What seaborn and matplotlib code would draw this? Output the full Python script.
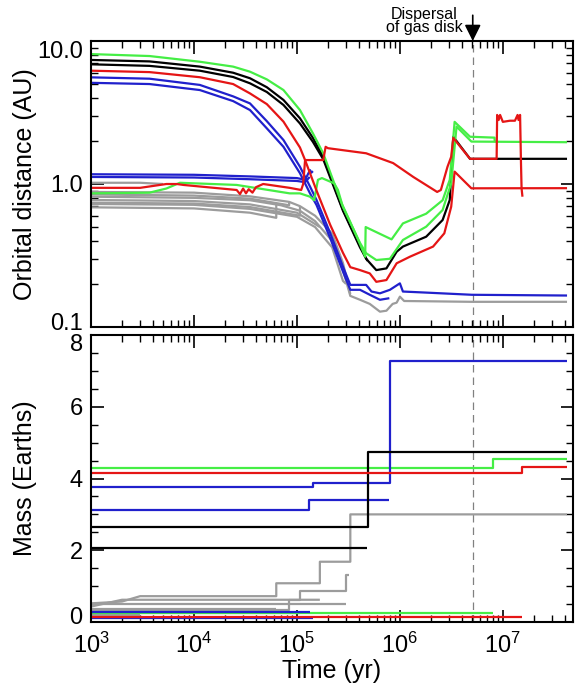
import matplotlib
matplotlib.use("Agg")
import numpy as np
import pandas as pd
import seaborn as sns
import matplotlib.pyplot as plt
import matplotlib.transforms as mtransforms
from matplotlib.ticker import LogLocator, NullFormatter, MultipleLocator, FixedLocator, FixedFormatter

# ================= orbital distance (AU) tracks =================
t_green_outer = [1e3, 3.7e3, 1.14e4, 2.4e4, 3.5e4, 5.1e4, 7.4e4, 1.07e5, 1.43e5, 1.8e5, 2.8e5, 4.1e5,
                 4.7e5, 5.9e5, 8e5, 1.07e6, 1.8e6, 2.6e6, 3.15e6, 3.55e6, 4.95e6, 4.2e7]
r_green_outer = [8.1, 7.85, 7.16, 6.62, 6.1, 5.39, 4.54, 3.29, 2.26, 1.64, 0.69, 0.387,
                 0.328, 0.294, 0.30, 0.406, 0.503, 0.658, 1.01, 2.52, 1.98, 1.96]

t_green_inner = [1e3, 3.7e3, 5.4e3, 7.3e3, 2.6e4, 8.5e4, 1.07e5, 1.34e5, 1.47e5, 1.6e5, 1.75e5, 2.3e5,
                 2.5e5, 2.75e5, 3.3e5, 4.1e5, 4.6e5, 4.65e5, 8.3e5, 1.07e6, 1.8e6, 2.6e6, 3.05e6,
                 3.4e6, 4.8e6, 8.3e6, 8.35e6]
r_green_inner = [0.86, 0.87, 0.93, 1.02, 0.985, 0.86, 0.86, 0.815, 0.77, 1.07, 1.1, 1.01,
                 0.91, 0.72, 0.54, 0.38, 0.31, 0.5, 0.41, 0.53, 0.62, 0.77, 1.07,
                 2.72, 2.14, 2.11, 1.96]

t_black_1 = [1e3, 3.7e3, 1.14e4, 2.4e4, 3.5e4, 5.1e4, 7.4e4, 1.07e5, 1.43e5, 1.8e5, 2.8e5, 4.1e5,
             4.7e5, 5.9e5, 7.4e5, 9.3e5, 1.07e6, 1.8e6, 2.6e6, 3.05e6, 3.3e6, 4.8e6, 4.2e7]
r_black_1 = [7.37, 7.2, 6.62, 6.0, 5.49, 4.75, 3.87, 2.88, 2.1, 1.55, 0.66, 0.37,
             0.30, 0.25, 0.257, 0.336, 0.365, 0.428, 0.56, 0.773, 2.14, 1.5, 1.5]

t_black_2 = [1e3, 3.7e3, 1.14e4, 2.4e4, 3.5e4, 5.1e4, 7.4e4, 1.07e5, 1.43e5, 1.8e5, 2.8e5, 4.1e5, 4.85e5]
r_black_2 = [6.87, 6.7, 6.2, 5.6, 5.06, 4.4, 3.57, 2.65, 1.97, 1.49, 0.65, 0.36, 0.29]

t_red_outer = [1e3, 3.7e3, 1.14e4, 2.4e4, 3.5e4, 5.1e4, 7.4e4, 1.07e5, 1.2e5, 1.55e5, 2.1e5, 2.8e5,
               3.3e5, 4.1e5, 5.1e5, 5.9e5, 7.4e5, 9.3e5, 1.25e6, 2.1e6, 2.7e6, 3.15e6, 3.4e6,
               4.95e6, 4.2e7]
r_red_outer = [6.2, 6.06, 5.58, 5.0, 4.3, 3.62, 2.73, 1.8, 1.47, 0.9, 0.52, 0.33,
               0.262, 0.25, 0.237, 0.207, 0.213, 0.279, 0.31, 0.365, 0.452, 0.694, 1.22,
               0.933, 0.935]

t_red_inner = [1e3, 3e3, 5.4e3, 6.8e3, 7.9e3, 2.6e4, 2.8e4, 3e4, 3.2e4, 3.4e4, 3.7e4, 4e4, 4.7e4,
               8.5e4, 1.1e5, 1.15e5, 1.2e5, 1.8e5, 1.9e5, 2.0e5, 4.7e5, 8.6e5, 1.35e6, 2.3e6,
               2.5e6, 2.9e6, 3.15e6, 3.3e6, 4.8e6, 8.7e6, 8.8e6, 9.1e6, 9.4e6, 1.0e7, 1.17e7,
               1.31e7, 1.39e7, 1.42e7, 1.47e7, 1.5e7, 1.52e7, 1.55e7]
r_red_inner = [0.94, 0.94, 1.0, 1.0, 0.985, 0.908, 0.85, 0.93, 0.86, 0.92, 0.87, 0.95, 1.0,
               0.94, 0.908, 1.0, 1.47, 1.47, 1.82, 1.78, 1.64, 1.40, 1.12, 0.88,
               0.908, 1.32, 1.55, 2.1, 1.5, 1.5, 3.04, 2.8, 3.04, 2.72, 2.77,
               2.77, 3.04, 2.8, 3.04, 1.4, 0.93, 0.815]

t_blue_outer_1 = [1e3, 3.7e3, 1.14e4, 2.4e4, 3.5e4, 5.1e4, 7.4e4, 1.07e5, 1.34e5, 1.55e5, 2.1e5, 2.8e5,
                  3.3e5, 4.7e5, 5.3e5, 6.4e5, 8e5, 1e6, 1.07e6, 1.8e6, 5e6, 4.2e7]
r_blue_outer_1 = [5.57, 5.45, 4.93, 4.1, 3.66, 2.75, 2.03, 1.32, 0.96, 0.773, 0.455, 0.264,
                  0.197, 0.197, 0.177, 0.172, 0.182, 0.202, 0.177, 0.174, 0.168, 0.166]

t_blue_outer_2 = [1e3, 3.7e3, 1.14e4, 2.4e4, 3.5e4, 5.1e4, 7.4e4, 1.07e5, 1.34e5, 1.55e5, 2.1e5, 2.8e5,
                  3.3e5, 4.1e5, 5.1e5, 6.4e5, 7.9e5]
r_blue_outer_2 = [5.1, 5.0, 4.54, 3.8, 3.29, 2.45, 1.82, 1.19, 0.86, 0.713, 0.42, 0.244,
                  0.182, 0.182, 0.168, 0.155, 0.159]

t_blue_inner_1 = [1e3, 1e4, 3.5e4, 1e5, 1.2e5, 1.34e5, 1.38e5, 1.43e5]
r_blue_inner_1 = [1.17, 1.16, 1.13, 1.1, 1.07, 1.25, 1.2, 1.23]
t_blue_inner_2 = [1e3, 1e4, 3.5e4, 1e5, 1.2e5, 1.33e5]
r_blue_inner_2 = [1.12, 1.11, 1.08, 1.05, 1.03, 1.12]

t_gray_1 = [1e3, 1e4, 3.5e4, 7e4, 1.07e5, 1.5e5, 2.2e5, 2.8e5, 3.3e5, 4.1e5, 5.1e5, 6.4e5,
            7.4e5, 8.5e5, 9.3e5, 1e6, 1.1e6, 5e6, 4.2e7]
r_gray_1 = [0.815, 0.80, 0.77, 0.71, 0.65, 0.55, 0.40, 0.25, 0.165, 0.155, 0.145, 0.128,
            0.13, 0.145, 0.148, 0.163, 0.152, 0.15, 0.15]
t_gray_2 = [1e3, 1e4, 3.5e4, 8.4e4, 1.07e5, 1.5e5, 2.2e5, 2.8e5, 3.3e5]
r_gray_2 = [0.88, 0.87, 0.82, 0.75, 0.70, 0.60, 0.45, 0.28, 0.17]
t_gray_3 = [1e3, 1e4, 3.5e4, 1e5, 1.67e5]
r_gray_3 = [0.773, 0.76, 0.72, 0.63, 0.50]
t_gray_4 = [1e3, 1e4, 3.5e4, 1e5, 1.5e5, 2.2e5, 2.8e5, 3e5]
r_gray_4 = [0.725, 0.715, 0.67, 0.59, 0.5, 0.36, 0.21, 0.2]
t_gray_5 = [1e3, 1e4, 3.5e4, 6.3e4, 6.3e4]
r_gray_5 = [0.687, 0.675, 0.63, 0.58, 0.72]
t_gray_6 = [1e3, 1e4, 3.5e4, 8.4e4, 8.4e4]
r_gray_6 = [0.845, 0.83, 0.79, 0.71, 0.75]
t_gray_7 = [1e3, 1e4, 3.5e4, 1.07e5, 1.07e5]
r_gray_7 = [0.74, 0.73, 0.69, 0.6, 0.70]
t_gray_8 = [1e3, 3e3, 5e3]
r_gray_8 = [1.02, 1.02, 1.0]

# ================= mass (Earth masses) tracks =================
mt_green_outer = [1e3, 8.1e6, 8.1e6, 4.2e7];  m_green_outer = [4.28, 4.28, 4.53, 4.53]
mt_green_inner = [1e3, 8.1e6];                m_green_inner = [0.26, 0.26]
mt_black_1 = [1e3, 4.9e5, 4.9e5, 4.2e7];      m_black_1 = [2.66, 2.66, 4.73, 4.73]
mt_black_2 = [1e3, 4.8e5];                    m_black_2 = [2.05, 2.05]
mt_red_outer = [1e3, 1.55e7, 1.55e7, 4.2e7];  m_red_outer = [4.16, 4.16, 4.31, 4.31]
mt_red_inner = [1e3, 1.55e7];                 m_red_inner = [0.15, 0.15]
mt_blue_outer_1 = [1e3, 1.43e5, 1.43e5, 8e5, 8e5, 4.2e7]
m_blue_outer_1 = [3.77, 3.77, 3.88, 3.88, 7.27, 7.27]
mt_blue_outer_2 = [1e3, 1.31e5, 1.31e5, 7.9e5]; m_blue_outer_2 = [3.12, 3.12, 3.4, 3.4]
mt_blue_inner_1 = [1e3, 1.43e5];              m_blue_inner_1 = [0.12, 0.12]
mt_blue_inner_2 = [1e3, 1.33e5];              m_blue_inner_2 = [0.28, 0.28]
mt_gray_1 = [1e3, 2e3, 3e3, 6.3e4, 6.3e4, 1.67e5, 1.67e5, 3.3e5, 3.3e5, 4.2e7]
m_gray_1 = [0.52, 0.57, 0.72, 0.72, 1.08, 1.08, 1.68, 1.68, 3.0, 3.0]
mt_gray_2 = [1e3, 8.4e4, 8.4e4, 1.07e5, 1.07e5, 3.0e5, 3.0e5, 3.2e5]
m_gray_2 = [0.33, 0.33, 0.61, 0.61, 0.86, 0.86, 1.31, 1.31]
mt_gray_3 = [1e3, 2e3, 1.67e5];               m_gray_3 = [0.43, 0.62, 0.62]
mt_gray_4 = [1e3, 3.0e5];                     m_gray_4 = [0.49, 0.49]
mt_gray_5 = [1e3, 6.3e4];                     m_gray_5 = [0.36, 0.36]
mt_gray_6 = [1e3, 8.4e4];                     m_gray_6 = [0.28, 0.28]
mt_gray_7 = [1e3, 1.07e5];                    m_gray_7 = [0.25, 0.25]
mt_gray_8 = [1e3, 3e3];                       m_gray_8 = [0.2, 0.2]

t_gas_dispersal = 5.1e6
x_ticks = [1e3, 1e4, 1e5, 1e6, 1e7]
r_ticks = [0.1, 1.0, 10.0]
r_tick_labels = ["0.1", "1.0", "10.0"]
m_ticks = [0, 2, 4, 6, 8]

# ================= style =================
sns.set_theme(style="ticks")
plt.rcParams["font.family"] = ["Liberation Sans", "DejaVu Sans"]
plt.rcParams["mathtext.fontset"] = "custom"
plt.rcParams["mathtext.rm"] = "Liberation Sans"
plt.rcParams["mathtext.it"] = "Liberation Sans:italic"
plt.rcParams["mathtext.bf"] = "Liberation Sans:bold"
plt.rcParams["lines.solid_capstyle"] = "butt"

GREEN = "#45ee45"
BLUE = "#2020cc"
RED = "#e51515"
BLACK = "#000000"
GRAY = "#9c9c9c"
LW = 1.6

fig = plt.figure(figsize=(5.75, 6.85), dpi=100)
W, H = 575.0, 685.0
ax1 = fig.add_axes([91 / W, 1 - 327 / H, 482 / W, 286 / H])
ax2 = fig.add_axes([91 / W, 1 - 622 / H, 482 / W, 287 / H])

for ax in (ax1, ax2):
    ax.set_xscale("log")
ax1.set_yscale("log")


def draw(ax, t, v, color):
    sns.lineplot(x=np.asarray(t, float), y=np.asarray(v, float), ax=ax, color=color,
                 lw=LW, estimator=None, sort=False, legend=False)


# top panel
top_tracks = [
    (t_gray_8, r_gray_8, GRAY), (t_gray_2, r_gray_2, GRAY), (t_gray_6, r_gray_6, GRAY),
    (t_gray_3, r_gray_3, GRAY), (t_gray_7, r_gray_7, GRAY), (t_gray_4, r_gray_4, GRAY),
    (t_gray_5, r_gray_5, GRAY), (t_gray_1, r_gray_1, GRAY),
    (t_blue_inner_1, r_blue_inner_1, BLUE), (t_blue_inner_2, r_blue_inner_2, BLUE),
    (t_blue_outer_2, r_blue_outer_2, BLUE), (t_blue_outer_1, r_blue_outer_1, BLUE),
    (t_black_2, r_black_2, BLACK), (t_black_1, r_black_1, BLACK),
    (t_green_inner, r_green_inner, GREEN), (t_green_outer, r_green_outer, GREEN),
    (t_red_outer, r_red_outer, RED), (t_red_inner, r_red_inner, RED),
]
for t, v, c in top_tracks:
    draw(ax1, t, v, c)

# bottom panel
bottom_tracks = [
    (mt_gray_8, m_gray_8, GRAY), (mt_gray_7, m_gray_7, GRAY), (mt_gray_6, m_gray_6, GRAY),
    (mt_gray_5, m_gray_5, GRAY), (mt_gray_4, m_gray_4, GRAY), (mt_gray_3, m_gray_3, GRAY),
    (mt_gray_2, m_gray_2, GRAY), (mt_gray_1, m_gray_1, GRAY),
    (mt_green_inner, m_green_inner, GREEN), (mt_green_outer, m_green_outer, GREEN),
    (mt_blue_inner_2, m_blue_inner_2, BLUE), (mt_blue_inner_1, m_blue_inner_1, BLUE),
    (mt_blue_outer_2, m_blue_outer_2, BLUE), (mt_blue_outer_1, m_blue_outer_1, BLUE),
    (mt_black_2, m_black_2, BLACK), (mt_black_1, m_black_1, BLACK),
    (mt_red_inner, m_red_inner, RED), (mt_red_outer, m_red_outer, RED),
]
for t, v, c in bottom_tracks:
    draw(ax2, t, v, c)

for ax in (ax1, ax2):
    ax.axvline(t_gas_dispersal, color="#808080", lw=0.9, dashes=(6, 4), zorder=0.5)
    ax.set_xlim(1e3, 4.8e7)
    ax.xaxis.set_major_locator(FixedLocator(x_ticks))
    ax.xaxis.set_minor_locator(LogLocator(base=10, subs=np.arange(2, 10), numticks=20))
    ax.xaxis.set_minor_formatter(NullFormatter())
    ax.tick_params(axis="both", which="both", direction="in", top=True, right=True,
                   colors="black", labelsize=17, pad=6)
    ax.tick_params(axis="x", which="both", pad=8)
    ax.tick_params(which="major", length=9, width=1.2)
    ax.tick_params(which="minor", length=5, width=1.0)
    for s in ax.spines.values():
        s.set_linewidth(1.5)
        s.set_color("black")
    ax.set_xlabel("")
    ax.set_ylabel("")

ax1.set_ylim(0.1, 10)
ax1.yaxis.set_major_locator(FixedLocator(r_ticks))
ax1.yaxis.set_major_formatter(FixedFormatter(r_tick_labels))
ax1.yaxis.set_minor_locator(LogLocator(base=10, subs=np.arange(2, 10), numticks=20))
ax1.yaxis.set_minor_formatter(NullFormatter())
ax1.tick_params(labelbottom=False)
ax1.set_ylabel("Orbital distance (AU)", fontsize=18, color="black")
ax1.yaxis.set_label_coords(-0.112, 0.5)

ax2.set_ylim(0, 8)
ax2.yaxis.set_major_locator(FixedLocator(m_ticks))
ax2.yaxis.set_minor_locator(MultipleLocator(0.5))
ax2.set_xticklabels([r"$10^{%d}$" % int(np.log10(v)) for v in x_ticks])
ax2.set_ylabel("Mass (Earths)", fontsize=18, color="black")
ax2.yaxis.set_label_coords(-0.112, 0.5)
ax2.set_xlabel("Time (yr)", fontsize=18, color="black")
ax2.xaxis.set_label_coords(0.5, -0.128)

# IDL-like inward shift of the end labels of the y axes
def shift(label, dy_px):
    label.set_transform(label.get_transform() +
                        mtransforms.ScaledTranslation(0, dy_px / 100.0, fig.dpi_scale_trans))

lab1 = ax1.get_yticklabels()
shift(lab1[0], 5)
shift(lab1[-1], -8)
lab2 = ax2.get_yticklabels()
shift(lab2[0], 7)
shift(lab2[-1], -8)

# annotation: dispersal of gas disk
ax1.annotate("", xy=(t_gas_dispersal, 1.0), xycoords=("data", "axes fraction"),
             xytext=(t_gas_dispersal, 1.09), textcoords=("data", "axes fraction"),
             arrowprops=dict(arrowstyle="-|>,head_length=0.7,head_width=0.35",
                             color="black", lw=1.2, mutation_scale=14,
                             shrinkA=0, shrinkB=0),
             annotation_clip=False)
ax1.text(1.72e6, 1.07, "Dispersal\nof gas disk", transform=ax1.get_xaxis_transform(),
         ha="center", va="center", fontsize=11.5, linespacing=0.85, color="black")

fig.savefig("out.png", dpi=100)
